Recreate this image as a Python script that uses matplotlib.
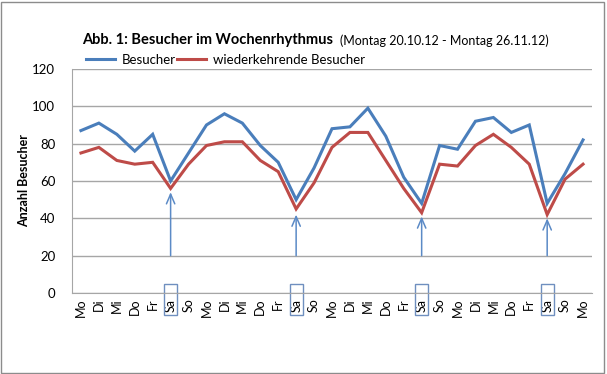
import numpy as np
import matplotlib
matplotlib.use('Agg')
import matplotlib.pyplot as plt
import matplotlib.patches as patches
import matplotlib.transforms as mtransforms

plt.rcParams['font.family'] = ['Lato', 'DejaVu Sans']

# daten: Montag bis Montag, 4 Wochen
tage = ['Mo', 'Di', 'Mi', 'Do', 'Fr', 'Sa', 'So'] * 4 + ['Mo']
besucher = [87, 91, 85, 76, 85, 60, 75,
            90, 96, 91, 79, 70, 50, 67,
            88, 89, 99, 84, 62, 48, 79,
            77, 92, 94, 86, 90, 48, 64,
            82]
wiederkehrend = [75, 78, 71, 69, 70, 56, 69,
                 79, 81, 81, 71, 65, 45, 59,
                 78, 86, 86, 71, 56, 43, 69,
                 68, 79, 85, 78, 69, 42, 61,
                 69]
# pfeile an den Samstagen
sa_index = [5, 12, 19, 26]
pfeil_spitze = [54, 42, 41, 40]
pfeil_start = 20

blau = '#4A7EBB'
rot = '#BE4B48'
pfeil_farbe = '#5B8AC6'

fig = plt.figure(figsize=(6.07, 3.74), dpi=100)
ax = fig.add_axes([0.1186, 0.2166, 0.8567, 0.599])

x = np.arange(len(tage))
ax.plot(x, besucher, color=blau, lw=2.2, label='Besucher', solid_joinstyle='miter')
ax.plot(x, wiederkehrend, color=rot, lw=2.2, label='wiederkehrende Besucher', solid_joinstyle='miter')

for i, tip in zip(sa_index, pfeil_spitze):
    ax.annotate('', xy=(i, tip), xytext=(i, pfeil_start),
                arrowprops=dict(arrowstyle='->,head_length=0.7,head_width=0.3',
                                color=pfeil_farbe, lw=1.1, shrinkA=0, shrinkB=0))

# kaestchen um die Samstag-Beschriftung
trans = mtransforms.blended_transform_factory(ax.transData, ax.transAxes)
for i in sa_index:
    r = patches.Rectangle((i - 0.36, -0.1), 0.72, 0.14, transform=trans,
                          fill=False, edgecolor='#6F8FBF', lw=1, clip_on=False)
    ax.add_patch(r)

ax.set_xlim(-0.5, len(tage) - 0.5)
ax.set_ylim(0, 120)
ax.set_yticks(range(0, 121, 20))
ax.set_xticks(x)
ax.set_xticklabels(tage, rotation=90, fontsize=9)
ax.tick_params(axis='both', length=0, colors='#000000')
ax.tick_params(axis='y', labelsize=9.5, pad=12)
ax.tick_params(axis='x', pad=4)
ax.grid(axis='y', color='#A6A6A6', lw=1)
ax.set_axisbelow(True)
for s in ['top', 'right']:
    ax.spines[s].set_visible(False)
ax.spines['left'].set_color('#A6A6A6')
ax.spines['bottom'].set_color('#A6A6A6')

ax.set_ylabel('Anzahl Besucher', fontsize=9, fontweight='bold')
ax.yaxis.set_label_coords(-0.081, 0.5)

fig.text(82 / 607, 1 - 40 / 374, 'Abb. 1: Besucher im Wochenrhythmus', fontsize=10.5,
         fontweight='bold', va='center', ha='left')
fig.text(340 / 607, 1 - 41 / 374, '(Montag 20.10.12 - Montag 26.11.12)', fontsize=9,
         va='center', ha='left')

fig.legend(loc='center left', bbox_to_anchor=(86 / 607, 1 - 60 / 374), ncol=2, frameon=False,
           fontsize=9.5, handlelength=2.2, columnspacing=0.1, handletextpad=0.5,
           borderaxespad=0, borderpad=0)

# rahmen um die ganze grafik
fig.patches.append(patches.Rectangle((0.002, 0.004), 0.993, 0.99, transform=fig.transFigure,
                                     fill=False, edgecolor='#8C8C8C', lw=1))

fig.savefig('out.png', dpi=100)
